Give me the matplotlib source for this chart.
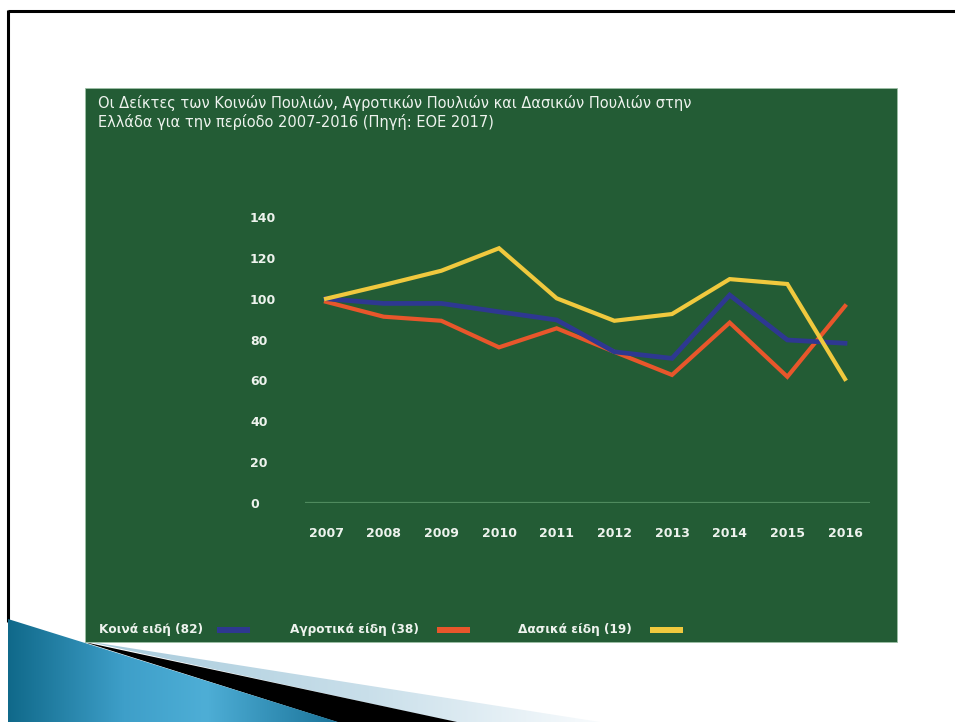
import numpy as np
import matplotlib
matplotlib.use("Agg")
import matplotlib.pyplot as plt
from matplotlib.patches import Rectangle, Polygon
from matplotlib.colors import LinearSegmentedColormap

# ---- data -------------------------------------------------------------
years = [2007, 2008, 2009, 2010, 2011, 2012, 2013, 2014, 2015, 2016]
common_birds = [100, 97.7, 97.7, 93.6, 89.6, 74.0, 70.8, 101.8, 79.8, 78.2]
farmland_birds = [98.5, 91.2, 89.2, 76.2, 85.5, 74.0, 62.7, 88.3, 61.8, 96.4]
forest_birds = [100, 106.7, 113.7, 124.7, 100.2, 89.2, 92.5, 109.6, 107.2, 60.7]
y_ticks = [0, 20, 40, 60, 80, 100, 120, 140]

series_labels = ["Κοινά ειδή (82)", "Αγροτικά είδη (38)", "Δασικά είδη (19)"]
title_lines = [
    "Οι Δείκτες των Κοινών Πουλιών, Αγροτικών Πουλιών και Δασικών Πουλιών στην",
    "Ελλάδα για την περίοδο 2007-2016 (Πηγή: ΕΟΕ 2017)",
]

# ---- styling ----------------------------------------------------------
W, H = 955, 722
GREEN = "#235C35"
TEXT = "#EEF3EE"
COLORS = ["#2E3891", "#E8562B", "#F0C93E"]
FONT = ["DejaVu Sans"]

fig = plt.figure(figsize=(W / 100, H / 100), dpi=100)
fig.patch.set_facecolor("white")

# pixel-space background layer for the slide decoration
bg = fig.add_axes([0, 0, 1, 1])
bg.set_xlim(0, W)
bg.set_ylim(H, 0)
bg.axis("off")
bg.set_zorder(0)

# slide frame
bg.plot([8, W + 5], [11, 11], color="black", lw=2.2, solid_capstyle="butt")
bg.plot([8, 8], [10, 622], color="black", lw=2.2, solid_capstyle="butt")

# chevron decoration in the bottom-left corner
grad = np.linspace(0, 1, 256).reshape(1, -1)

pale_cmap = LinearSegmentedColormap.from_list(
    "pale", [(0.0, "#A7CADB"), (0.55, "#C9DFEA"), (1.0, "#F8FBFD")])
pale = Polygon([(85, 641), (600, 722), (455, 722)], closed=True,
               facecolor="none", edgecolor="none")
bg.add_patch(pale)
im2 = bg.imshow(grad, cmap=pale_cmap, extent=[85, 600, 722, 641],
                aspect="auto", zorder=1)
im2.set_clip_path(pale)

band = Polygon([(84, 642), (457, 722), (337, 722)], closed=True,
               facecolor="black", edgecolor="none", zorder=2)
bg.add_patch(band)

blue_cmap = LinearSegmentedColormap.from_list(
    "slide_blue",
    [(0.0, "#10698A"), (0.35, "#3E9FC9"), (0.6, "#4EAED6"), (1.0, "#1A7399")])
chev = Polygon([(8, 619), (85, 643), (338, 722), (8, 722)], closed=True,
               facecolor="none", edgecolor="none")
bg.add_patch(chev)
im = bg.imshow(grad, cmap=blue_cmap, extent=[8, 338, 722, 619],
               aspect="auto", zorder=2)
im.set_clip_path(chev)

# green chart panel
bg.add_patch(Rectangle((85, 88), 812, 554, facecolor=GREEN,
                       edgecolor="#9DBFA6", lw=0.6, zorder=3))

# title
for i, line in enumerate(title_lines):
    bg.text(98, 103 + i * 19.5, line, color=TEXT, fontsize=10.5,
            family=FONT, va="center", ha="left", zorder=4)

# ---- chart ------------------------------------------------------------
x0, x1 = 305, 870
y0, y1 = 503, 217
ax = fig.add_axes([x0 / W, 1 - y0 / H, (x1 - x0) / W, (y0 - y1) / H])
ax.set_zorder(2)
ax.patch.set_alpha(0)
step = (845 - 326) / 9.0
ax.set_xlim(2007 - (326 - x0) / step, 2016 + (x1 - 845) / step)
ax.set_ylim(0, 140)

ax.plot(years, common_birds, color=COLORS[0], lw=3.4, zorder=3,
        solid_joinstyle="miter", clip_on=False)
ax.plot(years, farmland_birds, color=COLORS[1], lw=3.0, zorder=2,
        solid_joinstyle="miter", clip_on=False)
ax.plot(years, forest_birds, color=COLORS[2], lw=3.0, zorder=4,
        solid_joinstyle="miter", clip_on=False)

ax.axhline(0, color="#4F8A5E", lw=1.6, zorder=1)

for s in ax.spines.values():
    s.set_visible(False)

ax.set_xticks(years)
ax.set_xticklabels([str(y) for y in years])
ax.set_yticks(y_ticks)
ax.set_yticklabels([str(v) for v in y_ticks])
ax.tick_params(axis="both", length=0, colors=TEXT, labelsize=9)
ax.tick_params(axis="x", pad=17)
ax.tick_params(axis="y", pad=(x0 - 250) * 0.72)
for lbl in ax.get_yticklabels():
    lbl.set_horizontalalignment("left")
for lbl in ax.get_xticklabels() + ax.get_yticklabels():
    lbl.set_fontweight("bold")
    lbl.set_family(FONT)

# ---- legend (label followed by a colour swatch) ------------------------
legend_x = [99, 290, 518]
swatch_x = [217, 437, 650]
for lab, tx, sx, col in zip(series_labels, legend_x, swatch_x, COLORS):
    bg.text(tx, 630, lab, color=TEXT, fontsize=8.7, fontweight="bold",
            family=FONT, va="center", ha="left", zorder=4)
    bg.add_patch(Rectangle((sx, 627), 33, 6, facecolor=col,
                           edgecolor="none", zorder=4))

fig.savefig("out.png", dpi=100, facecolor="white")
